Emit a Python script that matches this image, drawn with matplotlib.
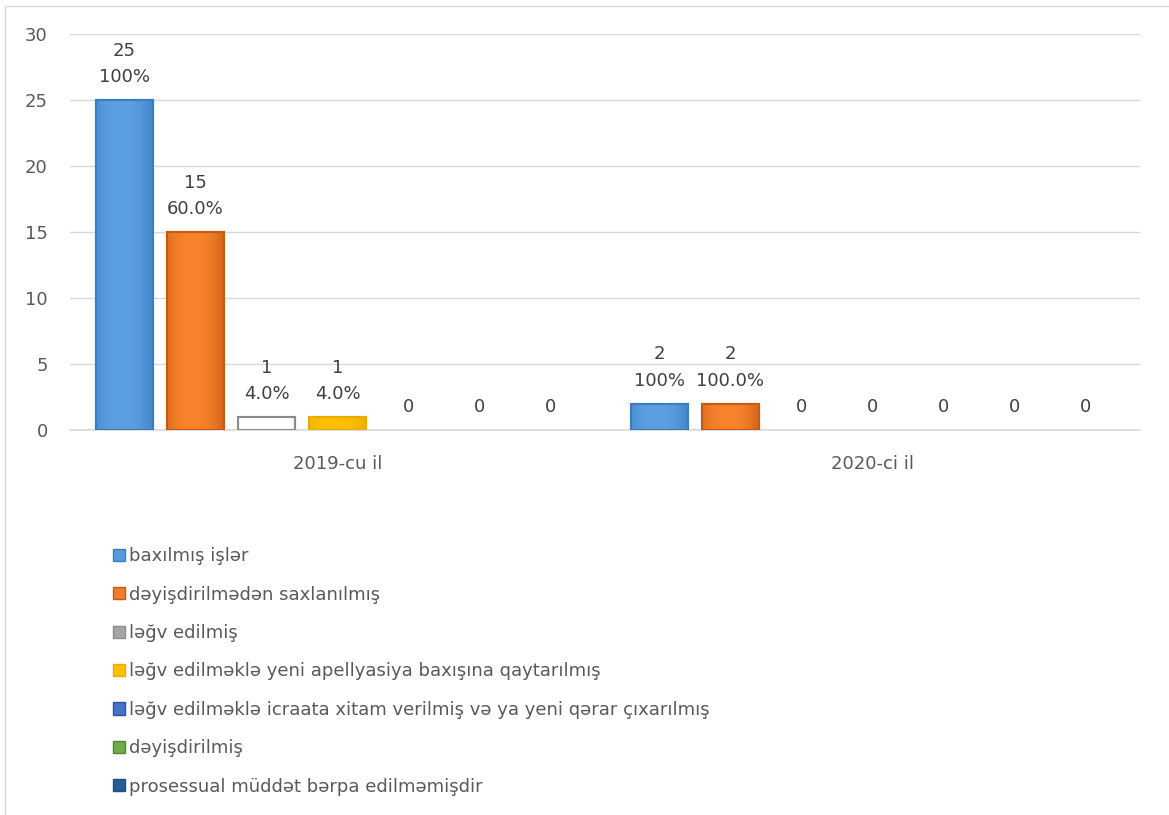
import matplotlib
matplotlib.use("Agg")
import matplotlib.pyplot as plt
import numpy as np
from matplotlib.patches import Rectangle, Patch
from matplotlib.colors import to_rgb

plt.rcParams['font.family'] = ['DejaVu Sans']

categories = ["2019-cu il", "2020-ci il"]
series_names = [
    "baxılmış işlər",
    "dəyişdirilmədən saxlanılmış",
    "ləğv edilmiş",
    "ləğv edilməklə yeni apellyasiya baxışına qaytarılmış",
    "ləğv edilməklə icraata xitam verilmiş və ya yeni qərar çıxarılmış",
    "dəyişdirilmiş",
    "prosessual müddət bərpa edilməmişdir",
]
values = [
    [25, 2],
    [15, 2],
    [1, 0],
    [1, 0],
    [0, 0],
    [0, 0],
    [0, 0],
]
percents = [
    ["100%", "100%"],
    ["60.0%", "100.0%"],
    ["4.0%", ""],
    ["4.0%", ""],
    ["", ""],
    ["", ""],
    ["", ""],
]
colors = ["#5B9BD5", "#ED7D31", "#A5A5A5", "#FFC000", "#4472C4", "#70AD47", "#255E91"]
edgecolors = ["#3A7CC0", "#C55A11", "#8C8C8C", "#E6AC00", "#2F5597", "#548235", "#1F4E79"]
facecolors_draw = ["#5BA0E3", "#F7832C", "#FFFFFF", "#FFC000", "#4472C4", "#70AD47", "#255E91"]

W, H = 1169, 815
fig = plt.figure(figsize=(W / 100, H / 100), dpi=100)
ax = fig.add_axes([70 / W, 1 - 430 / H, (1140 - 70) / W, (430 - 34) / H])

n = len(series_names)
step = 71 / 535
bw = 57 / 535
x = np.arange(len(categories))
txtcol = "#404040"
FS = 13


def gradient_fill(bar, base, edge):
    h = bar.get_height()
    if h <= 0:
        return
    x0 = bar.get_x()
    w = bar.get_width()
    b = np.array(to_rgb(base))
    e = np.array(to_rgb(edge))
    t = np.linspace(0, 1, 64)
    prof = np.clip(np.abs(t - 0.45) * 2, 0, 1) ** 2.5
    row = b[None, :] * (1 - prof[:, None] * 0.6) + e[None, :] * (prof[:, None] * 0.6)
    img = np.repeat(row[None, :, :], 2, axis=0)
    im = ax.imshow(img, extent=(x0, x0 + w, 0, h), aspect="auto", zorder=3.5,
                   interpolation="bilinear", origin="lower")
    im.set_clip_path(bar)


for i in range(n):
    pos = x + (i - (n - 1) / 2) * step
    lws = [1.5 if v > 0 else 0 for v in values[i]]
    bars = ax.bar(pos, values[i], width=bw, color=facecolors_draw[i],
                  edgecolor=edgecolors[i], linewidth=lws, label=series_names[i], zorder=3)
    if facecolors_draw[i] != "#FFFFFF":
        for bar in bars:
            gradient_fill(bar, facecolors_draw[i], edgecolors[i])
    for bar, lw in zip(bars, lws):
        if lw > 0:
            ax.add_patch(Rectangle((bar.get_x(), 0), bar.get_width(), bar.get_height(),
                                   fill=False, edgecolor=edgecolors[i], linewidth=lw, zorder=4))
    labels = []
    for v, p in zip(values[i], percents[i]):
        labels.append(f"{v}\n{p}" if p else f"{v}")
    ax.bar_label(bars, labels=labels, padding=10, fontsize=FS, color=txtcol,
                 linespacing=1.6)

ax.set_ylim(0, 30)
ax.set_xlim(-0.5, 1.5)
ax.set_yticks(range(0, 31, 5))
ax.set_xticks(x)
ax.set_xticklabels(categories)
ax.yaxis.grid(True, color="#D9D9D9", linewidth=1)
ax.set_axisbelow(True)
for s in ["top", "right", "left"]:
    ax.spines[s].set_visible(False)
ax.spines["bottom"].set_color("#D9D9D9")
ax.spines["bottom"].set_linewidth(1.2)
ax.tick_params(axis="both", length=0, labelsize=FS, colors="#595959")
ax.tick_params(axis="x", pad=18)
ax.tick_params(axis="y", pad=16)

labs = series_names
leg_handles = [Patch(facecolor=colors[i], edgecolor=edgecolors[i]) for i in range(n)]
leg = fig.legend(leg_handles, labs, loc="upper left", bbox_to_anchor=(106 / W, 1 - 540 / H),
                 frameon=False, fontsize=FS, handlelength=0.65, handleheight=0.65,
                 handletextpad=0.25, labelspacing=1.13, borderaxespad=0)
for t in leg.get_texts():
    t.set_color("#595959")

fig.add_artist(Rectangle((5 / W, -0.01), 1.2, 1 - 6 / H + 0.01, transform=fig.transFigure,
                         fill=False, edgecolor="#D9D9D9", linewidth=1))

fig.savefig("out.png", dpi=100)
